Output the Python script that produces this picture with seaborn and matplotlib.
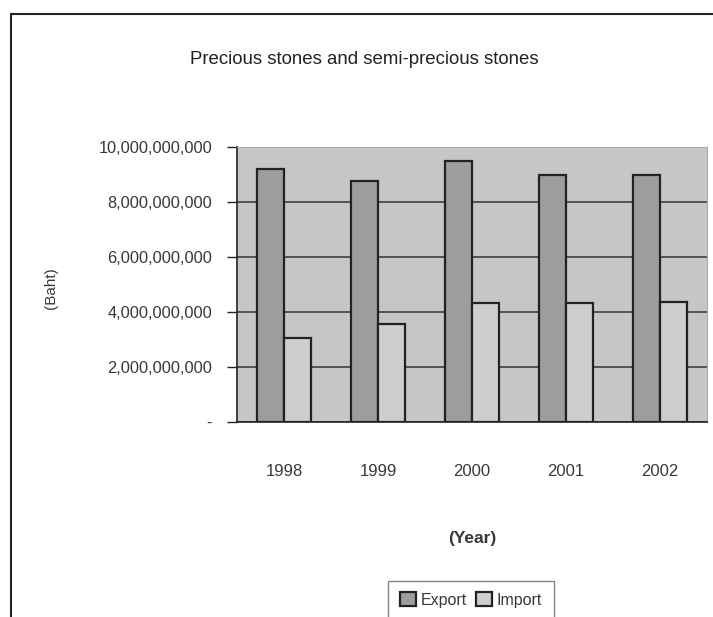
import numpy as np
import pandas as pd
import matplotlib
matplotlib.use("Agg")
import matplotlib.pyplot as plt
from matplotlib.ticker import FuncFormatter
from matplotlib.patches import Rectangle
import seaborn as sns

years = ["1998", "1999", "2000", "2001", "2002"]
export_vals = [9.20e9, 8.78e9, 9.48e9, 8.97e9, 8.99e9]
import_vals = [3.05e9, 3.58e9, 4.33e9, 4.33e9, 4.35e9]
series = ["Export", "Import"]
yticks = [0, 2e9, 4e9, 6e9, 8e9, 10e9]

df = pd.DataFrame({
    "Year": years * 2,
    "Value": export_vals + import_vals,
    "Type": ["Export"] * len(years) + ["Import"] * len(years),
})

sns.set_style("white")
plt.rcParams["font.family"] = ["Liberation Sans", "DejaVu Sans"]
txt = "#383838"

fig = plt.figure(figsize=(7.13, 6.17), dpi=100)
fig.patch.set_facecolor("white")

# outer chart frame (extends beyond the page)
fig.patches.append(Rectangle((11 / 713, -0.1), 1.2, 1 - 14 / 617 + 0.1,
                             transform=fig.transFigure, fill=False,
                             edgecolor="#222222", linewidth=1.5))

ax = fig.add_axes([237 / 713, 1 - 422 / 617, 470 / 713, (422 - 147) / 617])
ax.set_facecolor("#c6c6c6")

palette = {"Export": "#9d9d9d", "Import": "#cecece"}
sns.barplot(data=df, x="Year", y="Value", hue="Type", hue_order=series,
            palette=palette, width=0.57, edgecolor="#222222", linewidth=1.6,
            saturation=1, ax=ax, errorbar=None)

ax.set_ylim(0, 10e9)
ax.set_xlim(-0.5, 4.5)
ax.set_yticks(yticks)
ax.yaxis.set_major_formatter(FuncFormatter(lambda v, p: "-" if v == 0 else f"{v:,.0f}"))
ax.set_axisbelow(True)
ax.yaxis.grid(True, color="#333333", linewidth=1.1)
ax.xaxis.grid(False)

ax.set_xticks(np.arange(-0.5, 5, 1), minor=True)
ax.tick_params(axis="x", which="major", length=0, pad=30, labelsize=12, labelcolor=txt)
ax.tick_params(axis="x", which="minor", length=7, width=1, color="#222222", direction="out")
ax.tick_params(axis="y", which="major", length=7, width=1, color="#222222",
               direction="out", pad=11, labelsize=11.8, labelcolor=txt, left=True)

for s in ["left", "bottom"]:
    ax.spines[s].set_color("#222222")
    ax.spines[s].set_linewidth(1.2)
for s in ["top", "right"]:
    ax.spines[s].set_color("#aaaaaa")
    ax.spines[s].set_linewidth(0.8)

ax.set_ylabel("(Baht)", fontsize=11, color=txt)
ax.yaxis.set_label_coords((58 - 237) / 470, (422 - 288) / 275)
ax.set_xlabel("(Year)", fontsize=12.5, fontweight="bold", color=txt)
ax.xaxis.set_label_coords(0.5, -(531 - 422) / 275)

fig.text(364 / 713, 1 - 60 / 617, "Precious stones and semi-precious stones",
         ha="center", va="center", fontsize=13.4, color="#222222")

leg = ax.legend(loc="upper center", bbox_to_anchor=(471 / 713, 1 - 573 / 617),
                bbox_transform=fig.transFigure, ncol=2, frameon=True, fancybox=False,
                edgecolor="#666666", fontsize=11.5, handlelength=1.0, handleheight=1.0,
                handletextpad=0.3, columnspacing=0.6, borderpad=0.7)
for t in leg.get_texts():
    t.set_color(txt)
leg.get_frame().set_linewidth(1.0)

fig.savefig("out.png", dpi=100)
